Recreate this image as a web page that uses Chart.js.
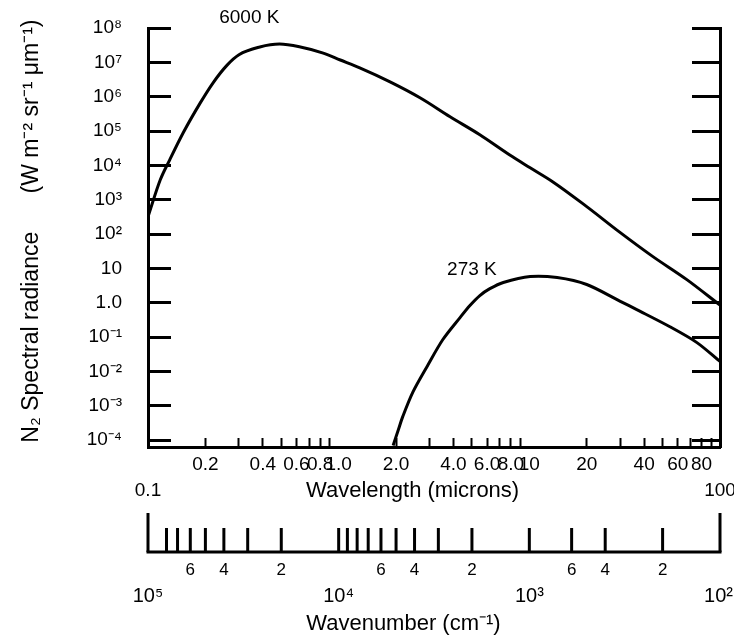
<!DOCTYPE html>
<html>
<head>
<meta charset="utf-8">
<script src="https://cdn.jsdelivr.net/npm/chart.js@4/dist/chart.umd.min.js"></script>
<style>
  html, body { margin: 0; padding: 0; background: #fff; }
  #wrap { width: 734px; height: 638px; position: relative; }
</style>
</head>
<body>
<div id="wrap"><canvas id="chart"></canvas></div>
<script>
// Values: wavelength in microns, radiance in W m-2 sr-1 um-1
const sunWavelength = [0.1, 0.116, 0.13, 0.153, 0.188, 0.219, 0.26, 0.30, 0.386, 0.49, 0.63, 0.83, 1.02, 1.29, 1.86, 2.67, 3.84, 5.5, 7.9, 10.1, 13.3, 20, 30, 44.5, 67, 100];
const sunRadiance = [3.2e2, 3.8e3, 1.45e4, 8.9e4, 6.6e5, 2.5e6, 8.3e6, 1.66e7, 2.8e7, 3.4e7, 2.8e7, 1.86e7, 1.17e7, 6.9e6, 2.7e6, 9.3e5, 2.6e5, 7.8e4, 2.0e4, 8.5e3, 3.3e3, 6.3e2, 1.1e2, 22, 4.7, 0.85];
const earthWavelength = [1.93, 2.05, 2.17, 2.45, 2.91, 3.52, 4.33, 4.88, 5.5, 6.21, 7.3, 10.1, 14, 20, 30, 36.6, 54.6, 75.7, 100];
const earthRadiance = [7e-5, 1.9e-4, 4.9e-4, 2.5e-3, 1.4e-2, 8.5e-2, 0.37, 0.83, 1.62, 2.57, 3.9, 5.8, 5.4, 3.4, 1.1, 0.63, 0.20, 0.069, 0.0195];

const curveNames = ['6000 K', '273 K'];
const curveNameAt = [[0.34, 1.95e8], [5.0, 9.2]];

// axis ticks
const wavelengthTicks = [0.1, 0.2, 0.3, 0.4, 0.5, 0.6, 0.7, 0.8, 0.9, 1, 2, 3, 4, 5, 6, 7, 8, 9, 10, 20, 30, 40, 50, 60, 70, 80, 90, 100];
const wavelengthLabels = [['', '0.1'], '0.2', '', '0.4', '', '0.6', '', '0.8', '', '1.0', '2.0', '', '4.0', '', '6.0', '', '8.0', '', '10', '20', '', '40', '', '60', '', '80', '', ['', '100']];
const radianceTicks = [1e-4, 1e-3, 1e-2, 1e-1, 1, 10, 1e2, 1e3, 1e4, 1e5, 1e6, 1e7, 1e8];
const radianceLabels = ['10⁻⁴', '10⁻³', '10⁻²', '10⁻¹', '1.0', '10', '10²', '10³', '10⁴', '10⁵', '10⁶', '10⁷', '10⁸'];
const wavenumberTicks = [1e5, 8e4, 7e4, 6e4, 5e4, 4e4, 3e4, 2e4, 1e4, 9e3, 8e3, 7e3, 6e3, 5e3, 4e3, 3e3, 2e3, 1e3, 6e2, 4e2, 2e2, 1e2];
const wavenumberDigits = ['', '', '', '6', '', '4', '', '2', '', '', '', '', '6', '', '4', '', '2', '', '6', '4', '2', ''];
const wavenumberDecades = [1e5, 1e4, 1e3, 1e2];
const wavenumberDecadeLabels = ['10⁵', '10⁴', '10³', '10²'];

const FONT = '"Liberation Sans", Arial, sans-serif';
Chart.defaults.font.family = FONT;
Chart.defaults.color = '#000';

const isDecade = v => Math.abs(Math.log10(v) - Math.round(Math.log10(v))) < 1e-9;

// curve names + the wavenumber axis drawn under the wavelength axis
const extrasPlugin = {
    id: 'extras',
    afterDraw(chart) {
        const ctx = chart.ctx;
        const xs = chart.scales.x, ys = chart.scales.y, wn = chart.scales.x2;
        ctx.save();
        ctx.fillStyle = '#000';
        ctx.strokeStyle = '#000';

        ctx.font = '19px ' + FONT;
        ctx.textAlign = 'center';
        ctx.textBaseline = 'middle';
        curveNames.forEach((name, i) => {
            ctx.fillText(name, xs.getPixelForValue(curveNameAt[i][0]), ys.getPixelForValue(curveNameAt[i][1]));
        });

        const base = wn.top + 5;
        const last = wavenumberTicks.length - 1;
        ctx.lineWidth = 3;
        ctx.lineCap = 'square';
        ctx.beginPath();
        ctx.moveTo(wn.getPixelForValue(wavenumberTicks[0]), base);
        ctx.lineTo(wn.getPixelForValue(wavenumberTicks[last]), base);
        ctx.stroke();
        ctx.lineCap = 'butt';
        wavenumberTicks.forEach((v, i) => {
            const px = wn.getPixelForValue(v);
            const len = (i === 0 || i === last) ? 39 : 24;
            ctx.beginPath();
            ctx.moveTo(px, base);
            ctx.lineTo(px, base - len);
            ctx.stroke();
            if (wavenumberDigits[i]) {
                ctx.font = '17px ' + FONT;
                ctx.fillText(wavenumberDigits[i], px, base + 18);
            }
        });
        ctx.font = '20px ' + FONT;
        wavenumberDecades.forEach((v, i) => {
            const w = ctx.measureText(wavenumberDecadeLabels[i]).width;
            const px = Math.min(wn.getPixelForValue(v), chart.width - w / 2 - 1);
            ctx.fillText(wavenumberDecadeLabels[i], px, base + 44);
        });
        ctx.restore();
    }
};

new Chart(document.getElementById('chart'), {
    type: 'line',
    data: {
        datasets: [
            {
                label: '6000 K',
                data: sunWavelength.map((w, i) => ({x: w, y: sunRadiance[i]})),
                borderColor: '#000',
                borderWidth: 3,
                pointRadius: 0,
                cubicInterpolationMode: 'monotone'
            },
            {
                label: '273 K',
                data: earthWavelength.map((w, i) => ({x: w, y: earthRadiance[i]})),
                borderColor: '#000',
                borderWidth: 3,
                pointRadius: 0,
                tension: 0.3
            }
        ]
    },
    options: {
        responsive: true,
        maintainAspectRatio: false,
        animation: false,
        layout: {padding: {top: 28, left: 0, right: 0, bottom: 0}},
        plugins: {legend: {display: false}, tooltip: {enabled: false}},
        scales: {
            x: {
                type: 'logarithmic',
                position: 'bottom',
                min: 0.1,
                max: 100,
                bounds: 'data',
                afterBuildTicks: s => { s.ticks = wavelengthTicks.map(v => ({value: v})); },
                afterFit: s => { s.height = 100; s.paddingLeft = 0; s.paddingRight = 14; },
                ticks: {
                    autoSkip: false,
                    maxRotation: 0,
                    padding: 13,
                    font: {size: 19, lineHeight: 1.4},
                    callback: (v, i) => wavelengthLabels[i]
                },
                grid: {
                    drawOnChartArea: false,
                    tickLength: -9,
                    tickWidth: 2,
                    tickColor: c => (c.tick && isDecade(c.tick.value)) ? 'rgba(0,0,0,0)' : '#000'
                },
                border: {display: true, color: '#000', width: 3},
                title: {
                    display: true,
                    text: 'Wavelength (microns)       ',
                    font: {size: 22},
                    padding: {top: 0, bottom: 43}
                }
            },
            x2: {
                type: 'logarithmic',
                position: 'bottom',
                min: 100,
                max: 1e5,
                reverse: true,
                bounds: 'data',
                afterFit: s => { s.height = 91; s.paddingLeft = 0; s.paddingRight = 0; },
                ticks: {display: false},
                grid: {display: false},
                border: {display: false},
                title: {
                    display: true,
                    text: 'Wavenumber (cm⁻¹)          ',
                    font: {size: 22},
                    padding: {top: 0, bottom: 1}
                }
            },
            y: {
                type: 'logarithmic',
                position: 'left',
                min: 6.3e-5,
                max: 1e8,
                bounds: 'data',
                afterBuildTicks: s => { s.ticks = radianceTicks.map(v => ({value: v})); },
                afterFit: s => { s.width = 148; s.paddingTop = 0; s.paddingBottom = 0; },
                ticks: {
                    autoSkip: false,
                    padding: 49,
                    font: {size: 19},
                    callback: (v, i) => radianceLabels[i]
                },
                grid: {drawOnChartArea: false, tickLength: -23, tickWidth: 3, tickColor: '#000'},
                border: {display: true, color: '#000', width: 3},
                title: {
                    display: true,
                    text: '  N₂ Spectral radiance      (W m⁻² sr⁻¹ μm⁻¹)',
                    font: {size: 23},
                    padding: {top: 18, bottom: 0}
                }
            },
            y2: {
                type: 'logarithmic',
                position: 'right',
                min: 6.3e-5,
                max: 1e8,
                bounds: 'data',
                afterBuildTicks: s => { s.ticks = radianceTicks.map(v => ({value: v})); },
                afterFit: s => { s.width = 14; s.paddingTop = 0; s.paddingBottom = 0; },
                ticks: {display: false},
                grid: {drawOnChartArea: false, tickLength: -28, tickWidth: 3, tickColor: '#000'},
                border: {display: true, color: '#000', width: 3}
            }
        }
    },
    plugins: [extrasPlugin]
});
</script>
</body>
</html>
